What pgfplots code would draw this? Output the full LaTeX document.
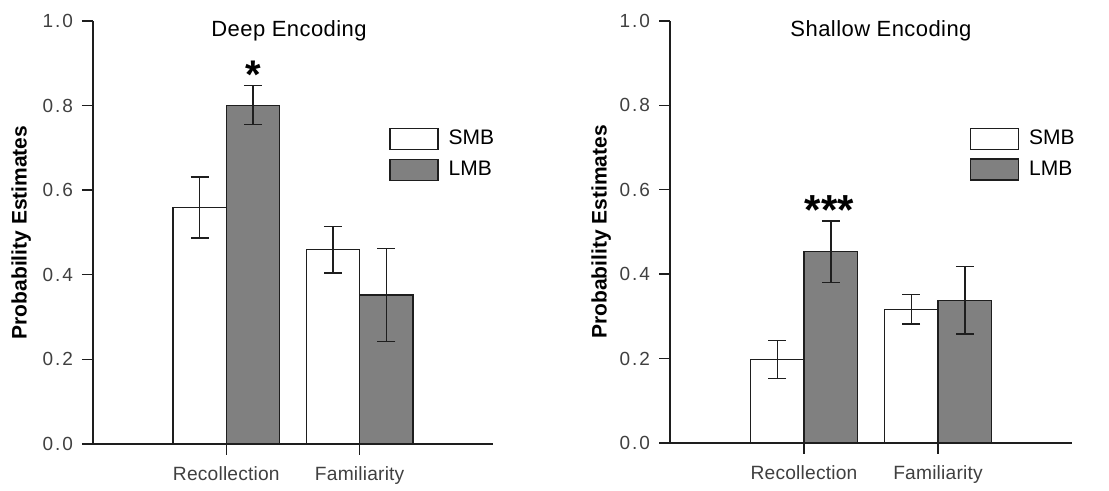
\documentclass[border=0pt]{standalone}
\usepackage{fontspec}
\setmainfont{Liberation Sans}
\newfontfamily\ytickfont[LetterSpace=10]{Liberation Sans}
\newfontfamily\xtickfont[LetterSpace=1]{Liberation Sans}
\newfontfamily\titlefont[LetterSpace=2]{Liberation Sans}
\usepackage{pgfplots}
\pgfplotsset{compat=1.18}
\definecolor{barfill}{HTML}{808080}
\definecolor{edge}{HTML}{1E1E1E}
\pgfplotsset{
  panel/.style={
    scale only axis,
    height=211.5pt,
    xmin=-1, xmax=2, ymin=0, ymax=1,
    axis x line=bottom, axis y line=left,
    axis line style={-, line width=0.7pt, edge},
    xtick={0,1}, xticklabels={Recollection, Familiarity},
    ytick={0,0.2,0.4,0.6,0.8,1.0},
    yticklabel={\pgfmathprintnumber[fixed,fixed zerofill,precision=1,assume math mode=true]{\tick}},
    tick align=outside, major tick length=5.5pt,
    tick style={line width=0.7pt, edge},
    yticklabel style={font=\ytickfont\fontsize{9.5}{10}\selectfont, text=black!75, xshift=-1pt},
    xticklabel style={font=\xtickfont\fontsize{9.6}{10}\selectfont, text=black!75, yshift=-2.5pt},
    ylabel={Probability Estimates},
    ylabel style={font=\bfseries\fontsize{10.5}{12}\selectfont, at={(axis description cs:0,0.5)}, anchor=base},
    title style={font=\titlefont\fontsize{11}{12}\selectfont, at={(axis description cs:0.5,1)}, anchor=base, yshift=-14pt},
    ybar, bar width=0.4,
    legend image code/.code={\draw[#1] (0pt,-5.25pt) rectangle (24pt,5.25pt);},
    legend style={draw=none, fill=none, font=\fontsize{10.5}{12}\selectfont, inner sep=0pt,
      row sep=2.5pt, anchor=north west,
      /tikz/every odd column/.append style={column sep=3pt}},
    legend cell align=left,
    clip=false,
  },
  smb/.style={fill=white, draw=edge, line width=0.6pt, bar shift=-0.2},
  lmb/.style={fill=barfill, draw=edge, line width=0.6pt, bar shift=0.2},
  eb/.style={error bars/.cd, y dir=both, y explicit,
    error bar style={line width=0.7pt, edge},
    error mark options={rotate=90, mark size=4.5pt, line width=0.7pt, edge}},
}
\begin{document}
\begin{tikzpicture}
\path[use as bounding box] (0,0) rectangle (554.5pt,245.5pt);
% Left panel
\begin{axis}[panel, at={(46.5pt,23.5pt)}, anchor=south west, width=200pt,
  title={Deep Encoding}, title style={xshift=-2pt},
  ylabel style={yshift=33.2pt},
  legend style={at={(0.74,0.752)}},
  x axis line style={line width=1.1pt}]
\addplot[smb, eb] coordinates {(0,0.559) +- (0,0.072) (1,0.459) +- (0,0.055)};
\addplot[lmb, eb] coordinates {(0,0.801) +- (0,0.046) (1,0.352) +- (0,0.110)};
\legend{SMB, LMB}
\node[font=\bfseries\fontsize{20}{20}\selectfont, inner sep=0pt] at (axis cs:0.2,0.872) {*};
\end{axis}
% Right panel
\begin{axis}[panel, at={(335pt,24pt)}, anchor=south west, width=201pt,
  height=211pt,
  title={Shallow Encoding}, title style={xshift=5pt},
  ylabel style={yshift=31.7pt},
  legend style={at={(0.745,0.752)}}]
\addplot[smb, eb] coordinates {(0,0.198) +- (0,0.045) (1,0.317) +- (0,0.035)};
\addplot[lmb, eb] coordinates {(0,0.453) +- (0,0.073) (1,0.338) +- (0,0.080)};
\legend{SMB, LMB}
\node[font=\bfseries\fontsize{21}{21}\selectfont, inner sep=0pt] at (axis cs:0.19,0.552) {***};
\end{axis}
\end{tikzpicture}
\end{document}
